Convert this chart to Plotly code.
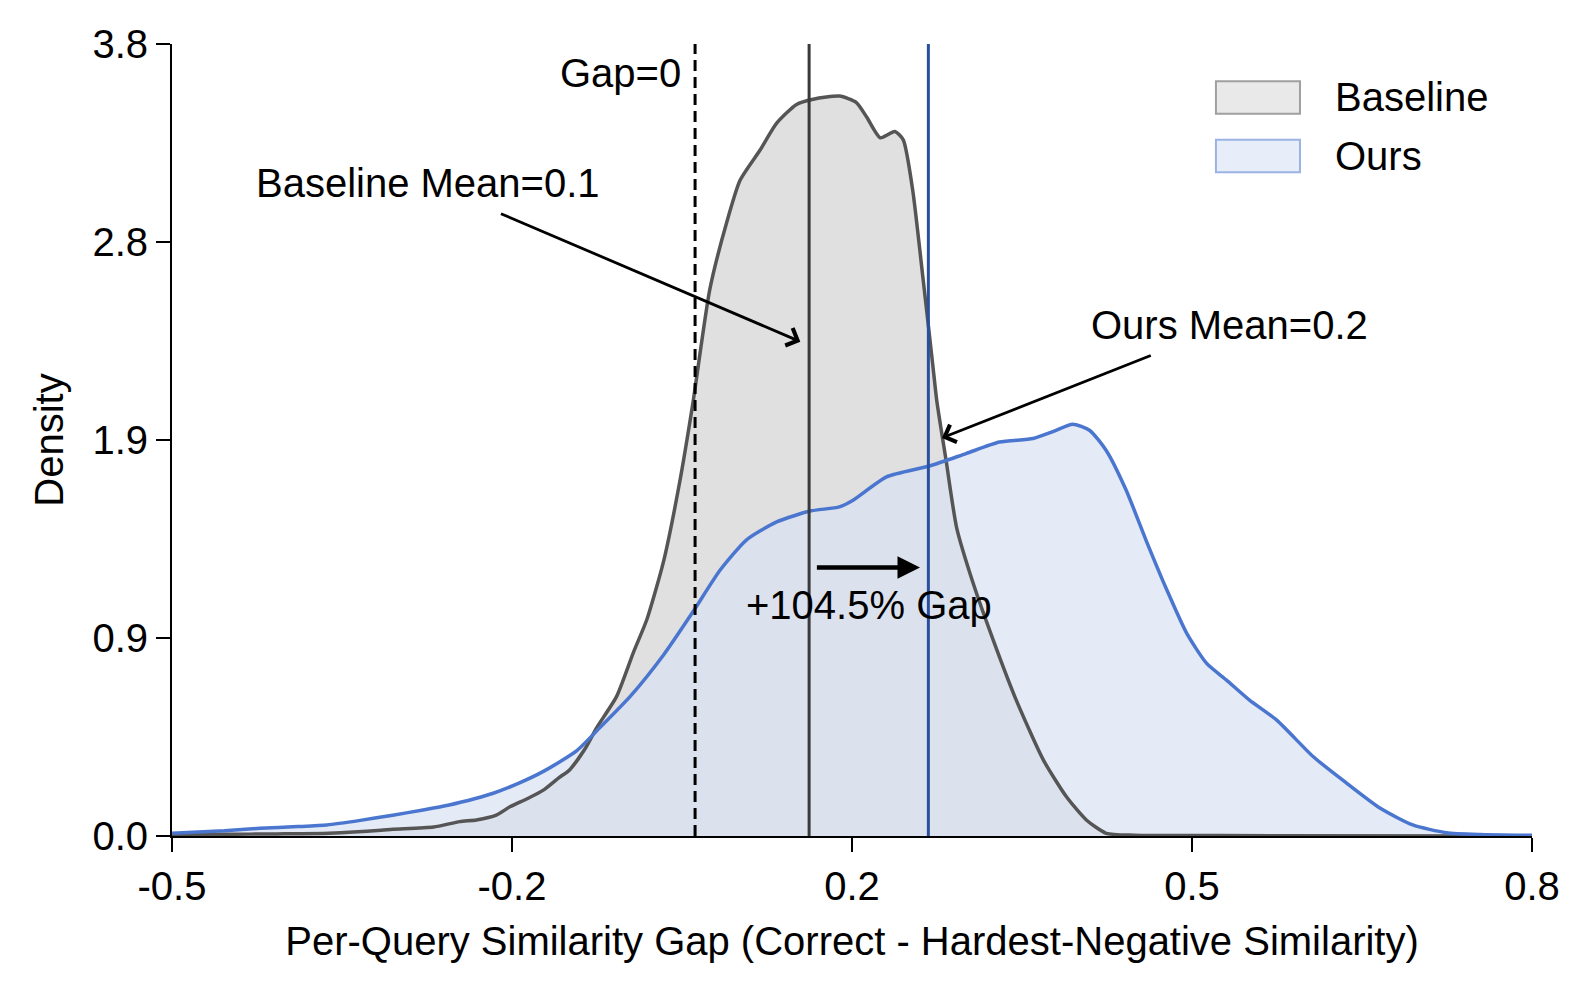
import plotly.graph_objects as go

# ---- data ----
baseline_x = [-0.50, -0.45, -0.40, -0.35, -0.30, -0.289, -0.25, -0.225, -0.209, -0.19, -0.177, -0.16,
              -0.145, -0.13, -0.12, -0.105, -0.094, -0.075, -0.059, -0.046, -0.03, -0.015, -0.002,
              0.014, 0.030, 0.043, 0.062, 0.078, 0.097, 0.113, 0.138, 0.154, 0.164, 0.177, 0.191,
              0.199, 0.208, 0.218, 0.227, 0.231, 0.240, 0.250, 0.266, 0.285, 0.307, 0.333, 0.355,
              0.374, 0.393, 0.42, 0.50, 0.80]
baseline_y = [0.005, 0.008, 0.010, 0.013, 0.027, 0.032, 0.043, 0.069, 0.077, 0.10, 0.14, 0.18,
              0.22, 0.28, 0.317, 0.42, 0.52, 0.67, 0.88, 1.04, 1.32, 1.69, 2.08,
              2.62, 2.94, 3.146, 3.29, 3.42, 3.51, 3.535, 3.55, 3.52, 3.45, 3.35, 3.38,
              3.34, 3.10, 2.67, 2.27, 2.09, 1.80, 1.48, 1.21, 0.94, 0.652, 0.364, 0.188,
              0.077, 0.013, 0.004, 0.002, 0.0]

ours_x = [-0.50, -0.45, -0.416, -0.38, -0.352, -0.32, -0.289, -0.26, -0.235, -0.21, -0.193, -0.17,
          -0.145, -0.113, -0.091, -0.062, -0.03, -0.002, 0.024, 0.049, 0.078, 0.110, 0.138, 0.151,
          0.183, 0.224, 0.259, 0.291, 0.323, 0.342, 0.361, 0.377, 0.393, 0.412, 0.431, 0.451,
          0.470, 0.489, 0.508, 0.530, 0.556, 0.591, 0.623, 0.655, 0.686, 0.718, 0.75, 0.80]
ours_y = [0.013, 0.025, 0.037, 0.045, 0.053, 0.075, 0.10, 0.125, 0.149, 0.18, 0.205, 0.25,
          0.31, 0.41, 0.52, 0.67, 0.87, 1.076, 1.276, 1.42, 1.507, 1.559, 1.579, 1.611,
          1.723, 1.775, 1.835, 1.89, 1.907, 1.94, 1.976, 1.947, 1.85, 1.66, 1.42, 1.18,
          0.972, 0.828, 0.748, 0.652, 0.556, 0.38, 0.253, 0.133, 0.053, 0.016, 0.007, 0.003]

baseline_mean = 0.109
ours_mean = 0.223
gap_zero = 0.0

x_tickvals = [-0.5, -0.175, 0.15, 0.475, 0.8]
x_ticktext = ["-0.5", "-0.2", "0.2", "0.5", "0.8"]
y_tickvals = [0.0, 0.95, 1.9, 2.85, 3.8]
y_ticktext = ["0.0", "0.9", "1.9", "2.8", "3.8"]

series_names = ["Baseline", "Ours"]

FONT = "Liberation Sans, Arial, sans-serif"
FS = 40
SPL = dict(shape="spline", smoothing=0.6)

fig = go.Figure()
# fills first
fig.add_trace(go.Scatter(x=baseline_x, y=baseline_y, mode="lines", name=series_names[0],
                         line=dict(width=0, color="#e0e0e0", **SPL),
                         fill="tozeroy", fillcolor="#e0e0e0", showlegend=False, hoverinfo="skip"))
fig.add_trace(go.Scatter(x=ours_x, y=ours_y, mode="lines", name=series_names[1],
                         line=dict(width=0, color="rgba(216,225,242,0.7)", **SPL),
                         fill="tozeroy", fillcolor="rgba(216,225,242,0.7)", showlegend=False,
                         hoverinfo="skip"))
# outlines on top
fig.add_trace(go.Scatter(x=baseline_x, y=baseline_y, mode="lines", name=series_names[0],
                         line=dict(color="#555555", width=3.5, **SPL), showlegend=False))
fig.add_trace(go.Scatter(x=ours_x, y=ours_y, mode="lines", name=series_names[1],
                         line=dict(color="#4a76cf", width=3.5, **SPL), showlegend=False))

# vertical reference lines
fig.add_shape(type="line", xref="x", yref="paper", x0=gap_zero, x1=gap_zero, y0=0, y1=1,
              line=dict(color="black", width=3, dash="11px,6px"))
fig.add_shape(type="line", xref="x", yref="paper", x0=baseline_mean, x1=baseline_mean, y0=0, y1=1,
              line=dict(color="#3a3a3a", width=3))
fig.add_shape(type="line", xref="x", yref="paper", x0=ours_mean, x1=ours_mean, y0=0, y1=1,
              line=dict(color="#2a4f9f", width=3))

anns = []
tf = dict(size=FS, family=FONT, color="black")
anns.append(dict(x=-0.012, y=3.66, xref="x", yref="y", text="Gap=0", showarrow=False,
                 xanchor="right", yanchor="middle", font=tf))
anns.append(dict(x=-0.255, y=3.135, xref="x", yref="y", text="Baseline Mean=0.1", showarrow=False,
                 xanchor="center", yanchor="middle", font=tf))
anns.append(dict(x=0.511, y=2.454, xref="x", yref="y", text="Ours Mean=0.2", showarrow=False,
                 xanchor="center", yanchor="middle", font=tf))
anns.append(dict(x=(baseline_mean + ours_mean) / 2, y=1.108, xref="x", yref="y", text="+104.5% Gap",
                 showarrow=False, xanchor="center", yanchor="middle", font=tf))
# arrows
anns.append(dict(x=0.1006, y=2.372, ax=-0.187, ay=2.989, xref="x", yref="y", axref="x", ayref="y",
                 text="", showarrow=True, arrowhead=4, arrowsize=1.3, arrowwidth=2.8, arrowcolor="black"))
anns.append(dict(x=0.236, y=1.91, ax=0.437, ay=2.308, xref="x", yref="y", axref="x", ayref="y",
                 text="", showarrow=True, arrowhead=4, arrowsize=1.3, arrowwidth=2.8, arrowcolor="black"))
anns.append(dict(x=0.215, y=1.288, ax=0.115, ay=1.288, xref="x", yref="y", axref="x", ayref="y",
                 text="", showarrow=True, arrowhead=2, arrowsize=1.0, arrowwidth=4.5, arrowcolor="black"))

# custom legend
legend_items = [
    (series_names[0], "#e9e9e9", "#a0a0a0", 0.953, 0.912),
    (series_names[1], "#e8eef9", "#9bb3e3", 0.879, 0.838),
]
for name, fc, ec, ytop, ybot in legend_items:
    fig.add_shape(type="rect", xref="paper", yref="paper", x0=0.7676, x1=0.8294, y0=ybot, y1=ytop,
                  fillcolor=fc, line=dict(color=ec, width=2))
    anns.append(dict(x=0.854, y=(ytop + ybot) / 2, xref="paper", yref="paper", text=name,
                     showarrow=False, xanchor="left", yanchor="middle", font=tf))

fig.update_layout(
    width=1589, height=990,
    margin=dict(l=172, r=57, t=44, b=154),
    paper_bgcolor="white", plot_bgcolor="white",
    font=dict(family=FONT, size=FS, color="black"),
    annotations=anns,
    showlegend=False,
    xaxis=dict(range=[-0.5, 0.8], tickvals=x_tickvals, ticktext=x_ticktext,
               showline=True, linecolor="black", linewidth=2, ticks="outside", ticklen=14,
               tickwidth=2, tickcolor="black", showgrid=False, zeroline=False,
               title=dict(text="Per-Query Similarity Gap (Correct - Hardest-Negative Similarity)",
                          standoff=20, font=dict(size=FS, family=FONT)),
               tickfont=dict(size=FS, family=FONT)),
    yaxis=dict(range=[0, 3.8], tickvals=y_tickvals, ticktext=y_ticktext,
               showline=True, linecolor="black", linewidth=2, ticks="outside", ticklen=14,
               tickwidth=2, tickcolor="black", showgrid=False, zeroline=False,
               title=dict(text="Density", standoff=16, font=dict(size=FS, family=FONT)),
               tickfont=dict(size=FS, family=FONT)),
)

fig.write_html("out.html")
